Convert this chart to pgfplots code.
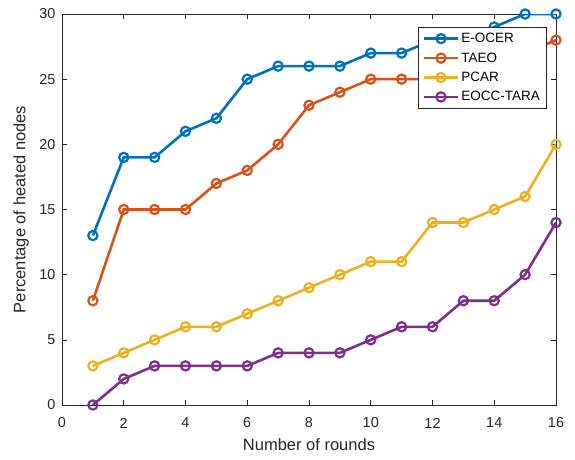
\documentclass[border=0pt]{standalone}
\usepackage{fontspec}
\setmainfont{Liberation Sans}
\usepackage{pgfplots}
\pgfplotsset{compat=1.18}
\definecolor{c1}{rgb}{0,0.447,0.741}
\definecolor{c2}{rgb}{0.85,0.325,0.098}
\definecolor{c3}{rgb}{0.929,0.694,0.125}
\definecolor{c4}{rgb}{0.494,0.184,0.556}
\definecolor{ax}{rgb}{0.15,0.15,0.15}
\tikzset{ser/.style={line width=2.6pt, mark=o, mark size=4.6pt, mark options={line width=2.2pt, solid}}}
\begin{document}
\begin{tikzpicture}[x=1pt,y=1pt]
\path[use as bounding box] (-62,-54) rectangle (513,405);
\begin{axis}[
  at={(0,0)}, anchor=south west,
  scale only axis, width=494pt, height=391pt,
  xmin=0, xmax=16, ymin=0, ymax=30,
  xtick={0,2,...,16}, ytick={0,5,...,30},
  tick align=inside, tick pos=both,
  major tick length=5pt,
  axis line style={ax, line width=0.6pt},
  every tick/.style={ax, line width=0.6pt},
  tick label style={font=\fontsize{14.4}{16}\selectfont, text=ax},
  xticklabel style={anchor=center, yshift=-18pt},
  yticklabel style={anchor=east, xshift=-3pt},
  label style={font=\fontsize{16.5}{19}\selectfont, text=ax},
  /pgf/number format/assume math mode=true,
  xlabel={Number of rounds},
  ylabel={Percentage of heated nodes},
  xlabel style={at={(axis description cs:0.5,-0.1023)}, anchor=center},
  ylabel style={at={(axis description cs:-0.083,0.5)}, anchor=center},
  legend style={at={(0.980,0.967)}, anchor=north east, font=\fontsize{13.5}{15}\selectfont, draw=ax, line width=0.6pt, inner xsep=4pt, inner ysep=4pt, row sep=4.5pt},
  legend cell align=left,
  legend image code/.code={\draw[mark repeat=2,mark phase=2] plot coordinates {(0pt,0pt)(17pt,0pt)(34pt,0pt)};},
]
\addplot[c1, ser] coordinates {(1,13)(2,19)(3,19)(4,21)(5,22)(6,25)(7,26)(8,26)(9,26)(10,27)(11,27)(12,28)(13,28)(14,29)(15,30)(16,30)};
\addlegendentry{E-OCER}
\addplot[c2, ser] coordinates {(1,8)(2,15)(3,15)(4,15)(5,17)(6,18)(7,20)(8,23)(9,24)(10,25)(11,25)(12,25)(13,26)(14,26)(15,27)(16,28)};
\addlegendentry{TAEO}
\addplot[c3, ser] coordinates {(1,3)(2,4)(3,5)(4,6)(5,6)(6,7)(7,8)(8,9)(9,10)(10,11)(11,11)(12,14)(13,14)(14,15)(15,16)(16,20)};
\addlegendentry{PCAR}
\addplot[c4, ser] coordinates {(1,0)(2,2)(3,3)(4,3)(5,3)(6,3)(7,4)(8,4)(9,4)(10,5)(11,6)(12,6)(13,8)(14,8)(15,10)(16,14)};
\addlegendentry{EOCC-TARA}
\end{axis}
\end{tikzpicture}
\end{document}
